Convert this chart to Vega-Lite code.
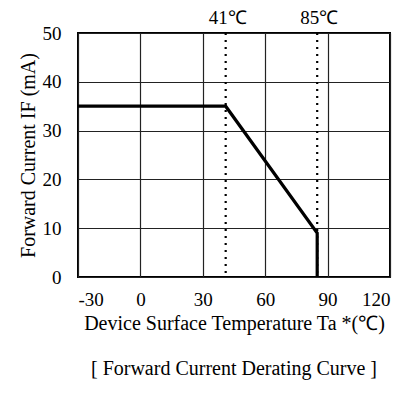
{
  "$schema": "https://vega.github.io/schema/vega-lite/v6.json",
  "width": 312,
  "height": 244,
  "autosize": {"type": "none"},
  "padding": {"left": 78, "top": 33, "right": 19, "bottom": 128},
  "background": "white",
  "config": {
    "font": "Liberation Serif",
    "view": {"stroke": "black", "strokeWidth": 2},
    "axis": {"grid": true, "gridColor": "#222", "gridWidth": 1.2, "gridOpacity": 1, "domain": false, "ticks": false, "labelColor": "black", "titleColor": "black", "labelFont": "Liberation Serif", "titleFont": "Liberation Serif", "titleFontWeight": "normal", "labelFontSize": 19, "titleFontSize": 20}
  },
  "title": {"text": "[ Forward Current Derating Curve ]", "orient": "bottom", "offset": 26, "fontSize": 20, "font": "Liberation Serif", "fontWeight": "normal", "color": "black"},
  "datasets": {
    "curve": [
      {"order": 1, "temp": -30, "current": 35},
      {"order": 2, "temp": 41, "current": 35},
      {"order": 3, "temp": 85, "current": 9},
      {"order": 4, "temp": 85, "current": 0}
    ],
    "marks": [
      {"temp": 41, "label": "41℃"},
      {"temp": 85, "label": "85℃"}
    ]
  },
  "layer": [
    {
      "data": {"name": "marks"},
      "mark": {"type": "rule", "strokeDash": [2, 5], "strokeWidth": 2.2, "color": "black"},
      "encoding": {
        "x": {"field": "temp", "type": "quantitative", "scale": {"domain": [-30, 120], "nice": false, "zero": false}, "axis": {"values": [-30, 0, 30, 60, 90, 120], "labelExpr": "'' + datum.value", "labelPadding": 13, "title": "Device Surface Temperature Ta *(℃)", "titlePadding": 4}}
      }
    },
    {
      "data": {"name": "curve"},
      "mark": {"type": "line", "color": "black", "strokeWidth": 3.2},
      "encoding": {
        "x": {"field": "temp", "type": "quantitative"},
        "y": {"field": "current", "type": "quantitative", "scale": {"domain": [0, 50], "nice": false}, "axis": {"values": [0, 10, 20, 30, 40, 50], "labelPadding": 17, "title": "Forward Current  IF (mA)", "titlePadding": 4}},
        "order": {"field": "order"}
      }
    },
    {
      "data": {"name": "marks"},
      "mark": {"type": "text", "fontSize": 19, "font": "Liberation Serif", "color": "black", "baseline": "alphabetic", "dx": 2},
      "encoding": {
        "x": {"field": "temp", "type": "quantitative"},
        "y": {"datum": 50},
        "text": {"field": "label"},
        "yOffset": {"value": -9}
      }
    }
  ]
}
